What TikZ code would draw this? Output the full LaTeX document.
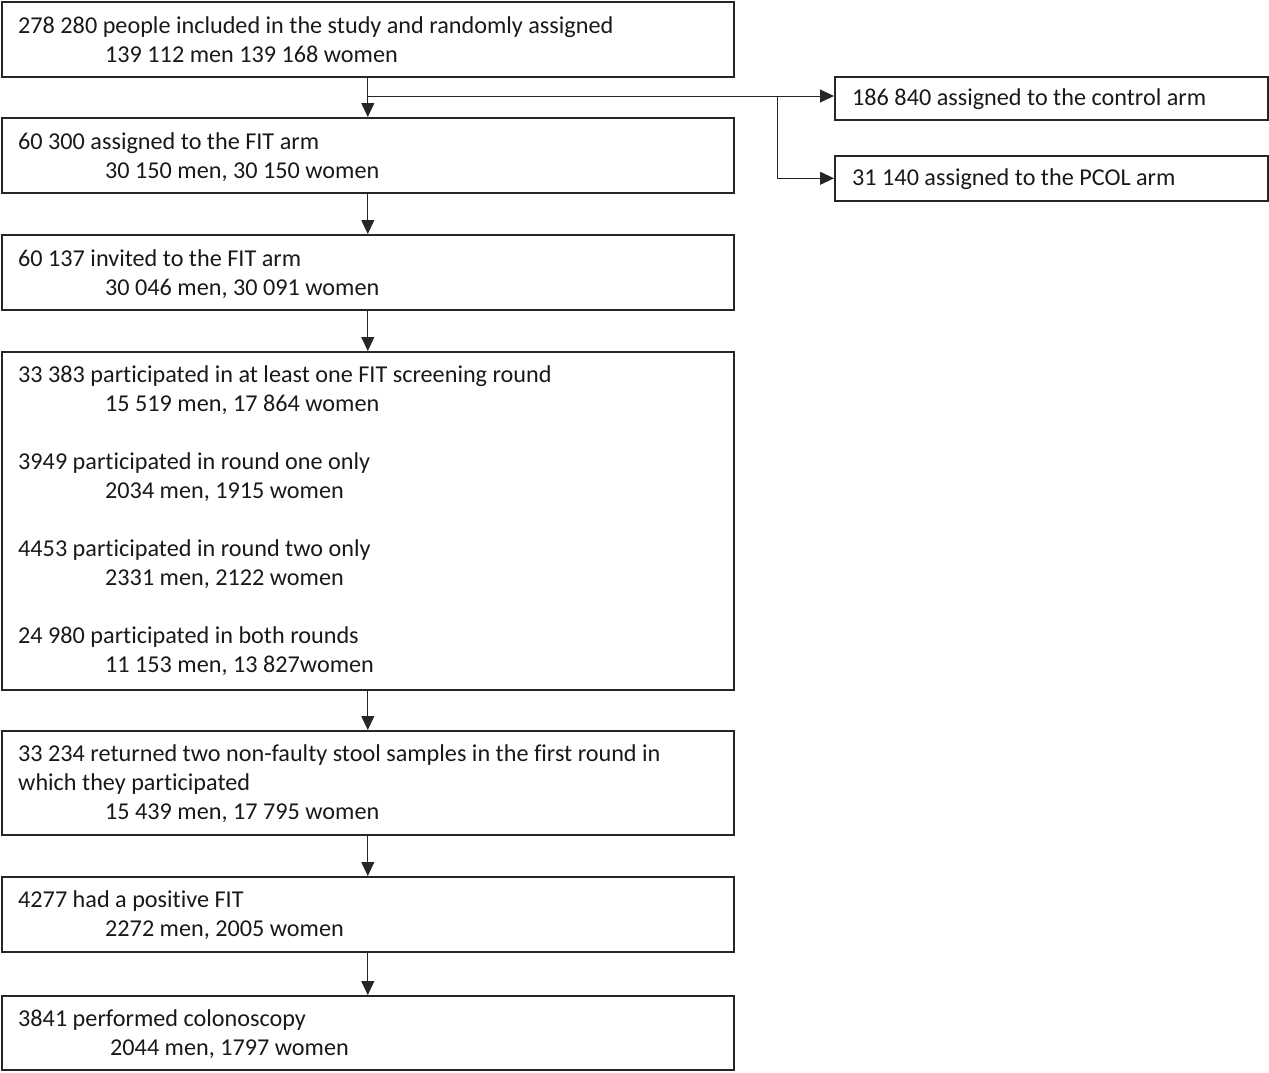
\documentclass[tikz,border=0pt]{standalone}
\usepackage{fontspec}
\setmainfont{Carlito}[Ligatures=NoCommon]
\usetikzlibrary{arrows.meta}
\begin{document}
\begin{tikzpicture}[x=1pt,y=-1pt,
  box/.style={draw=black!85, line width=1.6pt, inner sep=0pt, anchor=north west},
  txt/.style={inner sep=0pt, anchor=base west, text=black!90, font=\fontsize{24.2}{29}\selectfont},
  arr/.style={draw=black!85, line width=1pt, -{Triangle[length=14pt,width=13pt]}},
  ln/.style={draw=black!85, line width=1pt}]
\useasboundingbox (0,0) rectangle (1269,1072);
% left column boxes
\node[box, minimum width=732pt, minimum height=75pt] (b1) at (1,1) {};
\node[box, minimum width=732pt, minimum height=75pt] (b2) at (1,117) {};
\node[box, minimum width=732pt, minimum height=75pt] (b3) at (1,234) {};
\node[box, minimum width=732pt, minimum height=338pt] (b4) at (1,351) {};
\node[box, minimum width=732pt, minimum height=104pt] (b5) at (1,730) {};
\node[box, minimum width=732pt, minimum height=75pt] (b6) at (1,876) {};
\node[box, minimum width=732pt, minimum height=74pt] (b7) at (1,995) {};
% right boxes
\node[box, minimum width=433pt, minimum height=43pt] (ctrl) at (834,76) {};
\node[box, minimum width=433pt, minimum height=45pt] (pcol) at (834,155) {};
% texts
\node[txt] (t1a) at (18,33) {278 280 people included in the study and randomly assigned};
\node[txt] (t1b) at (105,62) {139 112 men 139 168 women};
\node[txt] (t2a) at (18,149) {60 300 assigned to the FIT arm};
\node[txt] (t2b) at (105,178) {30 150 men, 30 150 women};
\node[txt] (t3a) at (18,266) {60 137 invited to the FIT arm};
\node[txt] (t3b) at (105,295) {30 046 men, 30 091 women};
\node[txt] (t4a) at (18,382) {33 383 participated in at least one FIT screening round};
\node[txt] (t4b) at (105,411) {15 519 men, 17 864 women};
\node[txt] (t4c) at (18,469) {3949 participated in round one only};
\node[txt] (t4d) at (105,498) {2034 men, 1915 women};
\node[txt] (t4e) at (18,556) {4453 participated in round two only};
\node[txt] (t4f) at (105,585) {2331 men, 2122 women};
\node[txt] (t4g) at (18,643) {24 980 participated in both rounds};
\node[txt] (t4h) at (105,672) {11 153 men, 13 827women};
\node[txt] (t5a) at (18,761) {33 234 returned two non-faulty stool samples in the first round in};
\node[txt] (t5b) at (18,790) {which they participated};
\node[txt] (t5c) at (105,819) {15 439 men, 17 795 women};
\node[txt] (t6a) at (18,907) {4277 had a positive FIT};
\node[txt] (t6b) at (105,936) {2272 men, 2005 women};
\node[txt] (t7a) at (18,1026) {3841 performed colonoscopy};
\node[txt] (t7b) at (110,1055) {2044 men, 1797 women};
\node[txt] (tc) at (852,105) {186 840 assigned to the control arm};
\node[txt] (tp) at (852,185) {31 140 assigned to the PCOL arm};
% connectors
\draw[arr] (b1.south) -- (b2.north);
\draw[arr] (b2.south) -- (b3.north);
\draw[arr] (b3.south) -- (b4.north);
\draw[arr] (b4.south) -- (b5.north);
\draw[arr] (b5.south) -- (b6.north);
\draw[arr] (b6.south) -- (b7.north);
\coordinate (j1) at (b1.south |- 0,96);
\coordinate (j2) at (777,96);
\draw[arr] (j1) -- (j1 -| ctrl.west);
\draw[arr] (j2) |- (pcol.west);
\end{tikzpicture}
\end{document}
